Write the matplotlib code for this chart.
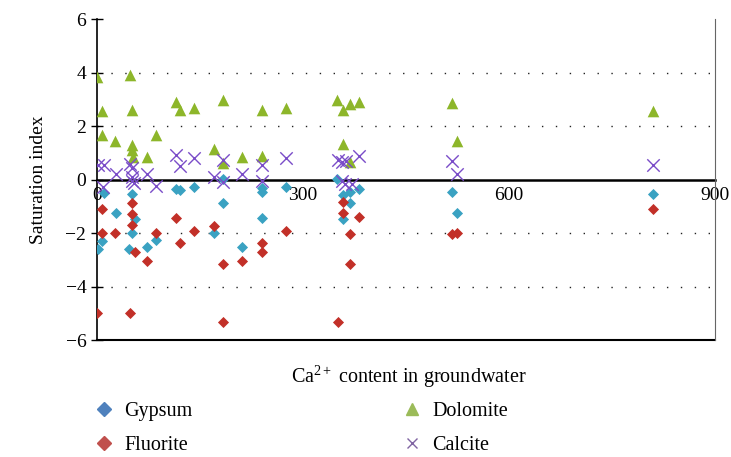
import matplotlib
matplotlib.use("Agg")
import matplotlib.pyplot as plt
from matplotlib.lines import Line2D

plt.rcParams['font.family'] = ['Liberation Serif', 'DejaVu Serif']
plt.rcParams['mathtext.fontset'] = 'custom'
plt.rcParams['mathtext.rm'] = 'Liberation Serif'
plt.rcParams['mathtext.it'] = 'Liberation Serif:italic'

# Ca2+ content (x) and saturation index (y) for each mineral
gypsum_x = [2, 8, 10, 28, 52, 55, 52, 47, 73, 86, 116, 121, 142, 170, 184, 184, 212,
            240, 240, 240, 275, 349, 359, 369, 381, 369, 359, 517, 524, 809]
gypsum_y = [-2.61, -2.29, -0.5, -1.25, -0.52, -1.46, -2.01, -2.61, -2.51, -2.26, -0.34, -0.4,
            -0.28, -2.01, 0.04, -0.86, -2.51, -0.31, -0.45, -1.42, -0.28, 0.04, -0.59, -0.46,
            -0.34, -0.87, -1.46, -0.46, -1.25, -0.52]

fluorite_x = [1, 8, 8, 27, 48, 52, 52, 52, 55, 73, 86, 116, 121, 142, 170, 184, 184, 212,
              240, 240, 275, 351, 359, 359, 381, 369, 369, 517, 524, 809]
fluorite_y = [-4.98, -1.11, -1.99, -1.99, -4.98, -0.87, -1.27, -1.7, -2.7, -3.04, -1.99, -1.43,
              -2.37, -1.93, -1.74, -3.17, -5.31, -3.04, -2.37, -2.72, -1.93, -5.31, -0.84, -1.25,
              -1.4, -2.05, -3.17, -2.05, -1.99, -1.11]

dolomite_x = [1, 48, 8, 52, 8, 27, 52, 52, 53, 73, 86, 116, 121, 142, 184, 170, 184, 212,
              240, 240, 275, 349, 359, 369, 381, 359, 369, 517, 524, 809]
dolomite_y = [3.85, 3.9, 2.55, 2.6, 1.68, 1.44, 1.28, 1.09, 0.85, 0.85, 1.68, 2.92, 2.59, 2.69,
              2.98, 1.13, 0.62, 0.85, 2.59, 0.87, 2.69, 2.98, 2.59, 2.83, 2.9, 1.32, 0.66, 2.86,
              1.44, 2.56]

calcite_x = [2, 10, 9, 28, 48, 52, 52, 52, 54, 73, 86, 116, 121, 142, 170, 184, 184, 212,
             240, 240, 275, 351, 357, 362, 381, 357, 361, 371, 517, 524, 809]
calcite_y = [0.53, 0.53, -0.28, 0.22, 0.6, 0.45, 0.1, -0.05, -0.13, 0.22, -0.25, 0.91, 0.5, 0.81,
             0.1, 0.75, -0.09, 0.22, 0.53, -0.05, 0.81, 0.74, 0.65, 0.7, 0.9, -0.05, -0.15, -0.15,
             0.68, 0.2, 0.53]

x_ticks = [0, 300, 600, 900]
y_ticks = [-6, -4, -2, 0, 2, 4, 6]

fig = plt.figure(figsize=(7.31, 4.57), dpi=100)
ax = fig.add_axes([0.1323, 0.256, 0.8462, 0.702])

ax.set_xlim(0, 900)
ax.set_ylim(-6, 6)

# dotted grid
for g in [-4, -2, 2, 4]:
    ax.axhline(g, color='#222222', lw=1.0, ls=(0, (1, 9)), zorder=1)

ax.scatter(dolomite_x, dolomite_y, marker='^', s=70, color='#8db62a', zorder=3, linewidths=0)
ax.scatter(calcite_x, calcite_y, marker='x', s=80, color='#7a4cc8', zorder=4, linewidths=1.0)
ax.scatter(gypsum_x, gypsum_y, marker='D', s=32, color='#3aa2c2', zorder=3, linewidths=0)
ax.scatter(fluorite_x, fluorite_y, marker='D', s=32, color='#c23028', zorder=3, linewidths=0)

# x axis through zero, frame line at -6
ax.spines['bottom'].set_position(('data', 0))
ax.spines['bottom'].set_linewidth(1.8)
ax.spines['bottom'].set_zorder(2)
ax.spines['top'].set_visible(False)
ax.spines['right'].set_color('#666666')
ax.spines['left'].set_linewidth(1.2)
ax.axhline(-6, color='black', lw=1.5, clip_on=False, zorder=2)

ax.set_xticks(x_ticks)
ax.set_xticklabels([str(v) for v in x_ticks])
ax.tick_params(axis='x', length=0, pad=5, labelsize=14)
ax.set_yticks(y_ticks)
ax.tick_params(axis='y', direction='inout', length=9, width=1.0, labelsize=14, pad=3)

ax.set_ylabel('Saturation index', fontsize=14, labelpad=13)
fig.text(0.559, 0.175, 'Ca$^{2+}$ content in groundwater', ha='center', va='center', fontsize=14.5)

handles = [
    Line2D([], [], ls='', marker='D', ms=7, color='#4f81bd', label='Gypsum'),
    Line2D([], [], ls='', marker='D', ms=7, color='#c0504d', label='Fluorite'),
    Line2D([], [], ls='', marker='^', ms=9, color='#9bbb59', label='Dolomite'),
    Line2D([], [], ls='', marker='x', ms=7, color='#8064a2', mew=1.0, label='Calcite'),
]
fig.legend(handles=handles, ncol=2, loc='upper left', bbox_to_anchor=(0.104, 0.161),
           frameon=False, fontsize=14.5, handletextpad=0.5, columnspacing=10.4,
           labelspacing=0.74, handlelength=1.0)

fig.savefig('out.png', dpi=100)
